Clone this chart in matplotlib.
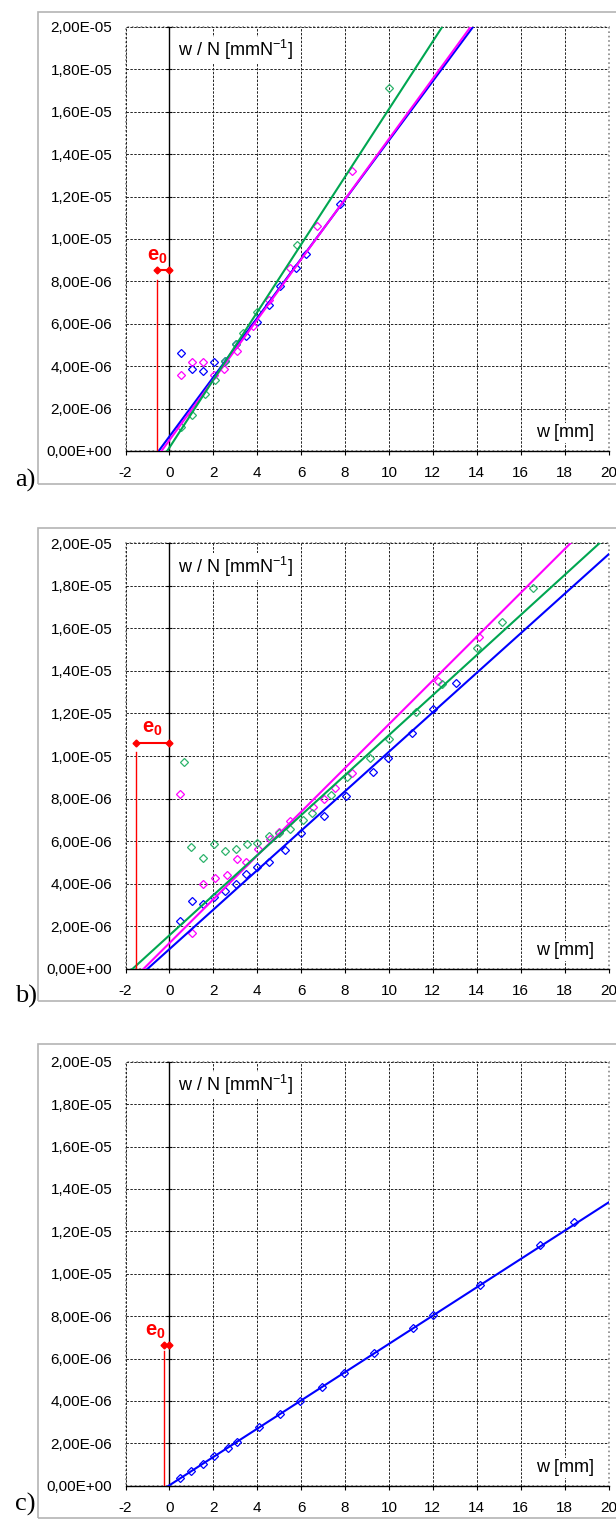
import matplotlib.pyplot as plt
from matplotlib.ticker import FuncFormatter
from matplotlib.patches import Rectangle
import numpy as np

plt.rcParams['font.family'] = ['Liberation Sans', 'DejaVu Sans']
plt.rcParams['mathtext.fontset'] = 'custom'
plt.rcParams['mathtext.rm'] = 'Liberation Sans'
plt.rcParams['mathtext.bf'] = 'Liberation Sans:bold'
plt.rcParams['axes.unicode_minus'] = False

# w [mm] and w/N [1e-6 mm/N]
a_blue_w = [0.53, 1.03, 1.52, 2.04, 2.52, 3.02, 3.51, 4.01, 4.54, 5.06, 5.77, 6.24, 7.79]
a_blue_v = [4.61, 3.85, 3.76, 4.18, 4.25, 5.06, 5.42, 6.10, 6.90, 7.78, 8.62, 9.29, 11.67]
a_mag_w = [0.53, 1.03, 1.52, 2.04, 2.49, 3.08, 3.81, 4.52, 5.48, 6.74, 8.32]
a_mag_v = [3.60, 4.18, 4.18, 3.60, 3.85, 4.70, 5.90, 7.10, 8.65, 10.61, 13.21]
a_green_w = [0.53, 1.03, 1.61, 2.06, 2.52, 3.02, 3.36, 3.98, 5.83, 9.99]
a_green_v = [1.15, 1.68, 2.70, 3.35, 4.25, 5.06, 5.58, 6.57, 9.70, 17.11]

b_blue_w = [0.49, 1.01, 1.52, 2.02, 2.52, 3.03, 3.51, 4.01, 4.52, 5.27, 6.00, 7.03, 8.06, 9.26, 9.95, 11.06, 12.01, 13.07]
b_blue_v = [2.26, 3.18, 3.04, 3.36, 3.67, 3.99, 4.43, 4.76, 5.00, 5.59, 6.38, 7.18, 8.12, 9.26, 9.92, 11.10, 12.22, 13.45]
b_mag_w = [0.49, 1.03, 1.52, 2.06, 2.62, 3.10, 3.50, 4.04, 4.56, 5.01, 5.51, 6.53, 7.02, 7.55, 8.31, 12.25, 14.12]
b_mag_v = [8.23, 1.66, 3.98, 4.28, 4.42, 5.16, 5.00, 5.65, 6.08, 6.44, 6.96, 7.60, 7.96, 8.48, 9.22, 13.54, 15.61]
b_green_w = [0.68, 1.00, 1.52, 2.01, 2.55, 3.05, 3.53, 4.01, 4.55, 5.01, 5.51, 6.07, 6.50, 7.35,
             8.08, 9.13, 10.02, 11.24, 12.42, 14.03, 15.13, 16.55]
b_green_v = [9.73, 5.74, 5.22, 5.88, 5.55, 5.61, 5.86, 5.92, 6.24, 6.40, 6.57, 6.97, 7.34, 8.17,
             9.03, 9.92, 10.81, 12.08, 13.37, 15.06, 16.29, 17.88]

c_blue_w = [0.49, 1.00, 1.51, 2.05, 2.65, 3.08, 4.06, 5.05, 5.97, 6.94, 7.95, 9.33, 11.10, 12.01, 14.15, 16.88, 18.45]
c_blue_v = [0.35, 0.71, 1.02, 1.40, 1.79, 2.08, 2.75, 3.38, 4.00, 4.64, 5.33, 6.25, 7.42, 8.05, 9.48, 11.34, 12.45]

# linear fits: slope [1e-6 /N] and intercept on the w axis [mm]
a_slope = [1.397, 1.421, 1.597]
a_w0 = [-0.49, -0.36, -0.10]
b_slope = [0.928, 1.029, 0.941]
b_w0 = [-0.99, -1.17, -1.67]
c_slope = [0.667]
c_w0 = [-0.03]

# e0 marker: w position, height of red line, height of bar [1e-6]
e0_w = [-0.58, -1.53, -0.23]
e0_top = [8.07, 10.17, 6.35]
e0_bar = [8.54, 10.63, 6.64]

colors = ['#0000ff', '#ff00ff', '#00a651']
mcolors = ['#0000ff', '#ff00ff', '#2db36b']

W, H = 616, 1519
fig = plt.figure(figsize=(W / 100, H / 100), dpi=100)

panels = [
    dict(lbl='a)', top=27, bot=451, ftop=11.7, fbot=484, lbly=480, etx=-0.55,
         pts=[(a_blue_w, a_blue_v), (a_mag_w, a_mag_v), (a_green_w, a_green_v)],
         slope=a_slope, w0=a_w0),
    dict(lbl='b)', top=543.3, bot=968.7, ftop=528.3, fbot=1001, lbly=996, etx=-0.77,
         pts=[(b_blue_w, b_blue_v), (b_mag_w, b_mag_v), (b_green_w, b_green_v)],
         slope=b_slope, w0=b_w0),
    dict(lbl='c)', top=1061.7, bot=1485.7, ftop=1044.3, fbot=1518, lbly=1504, etx=-0.65,
         pts=[(c_blue_w, c_blue_v)],
         slope=c_slope, w0=c_w0),
]

fmt = FuncFormatter(lambda v, p: f"{v:.2E}".replace('.', ','))
xs = np.array([-2, 20])

for i, p in enumerate(panels):
    # outer frame
    fig.add_artist(Rectangle((38 / W, 1 - p['fbot'] / H), 1.0, (p['fbot'] - p['ftop']) / H,
                             transform=fig.transFigure, fill=False, ec='#b4b4b4', lw=1.2))
    fig.text(15 / W, 1 - p['lbly'] / H, p['lbl'], family='Liberation Serif', fontsize=19,
             va='center', ha='left')

    ax = fig.add_axes([125.5 / W, 1 - p['bot'] / H, 483 / W, (p['bot'] - p['top']) / H])
    ax.set_xlim(-2, 20)
    ax.set_ylim(0, 2e-5)
    ax.set_xticks(range(-2, 21, 2))
    ax.set_yticks(np.arange(0, 2.01e-5, 2e-6))
    ax.yaxis.set_major_formatter(fmt)
    ax.grid(True, color='#222222', ls=(0, (2.5, 1.5)), lw=0.7)
    ax.set_axisbelow(True)

    for s in ['top', 'right']:
        ax.spines[s].set_visible(False)
    ax.spines['left'].set_position(('data', 0))
    ax.spines['left'].set_linewidth(1.0)
    ax.spines['bottom'].set_linewidth(1.0)
    ax.add_patch(Rectangle((0, 0), 1, 1, transform=ax.transAxes, fill=False,
                           ec='#888888', ls=':', lw=1.2, clip_on=False, zorder=0.5))
    ax.tick_params(axis='y', direction='inout', length=4, width=0.8, pad=39, labelsize=11)
    ax.tick_params(axis='x', direction='out', length=3, width=0.8, pad=8, labelsize=11)

    for k, (w, v) in enumerate(p['pts']):
        ax.plot(w, np.array(v) * 1e-6, ls='none', marker='D', ms=4.2, mfc='none',
                mec=mcolors[k], mew=0.9, zorder=3)
    for k in range(len(p['slope'])):
        ax.plot(xs, p['slope'][k] * 1e-6 * (xs - p['w0'][k]), color=colors[k], lw=1.5, zorder=4)

    # e0
    ax.plot([e0_w[i], e0_w[i]], [0, e0_top[i] * 1e-6], color='red', lw=1, zorder=5)
    ax.plot([e0_w[i], 0], [e0_bar[i] * 1e-6] * 2, color='red', lw=1.5, marker='D', ms=3.5,
            zorder=5, clip_on=False)
    ax.text(p['etx'], (e0_bar[i] + 0.65) * 1e-6, r'$\mathbf{e_0}$', color='red', fontsize=14.5,
            ha='center', va='center', zorder=6)

    ax.text(3.0, 18.9e-6, r'w / N [mmN$^{\mathregular{-1}}$]', fontsize=13, ha='center', va='center',
            bbox=dict(fc='white', ec='none', pad=1), zorder=6)
    ax.text(18.0, 0.85e-6, 'w [mm]', fontsize=13, ha='center', va='center',
            bbox=dict(fc='white', ec='none', pad=1), zorder=6)

fig.savefig('out.png', dpi=100)
